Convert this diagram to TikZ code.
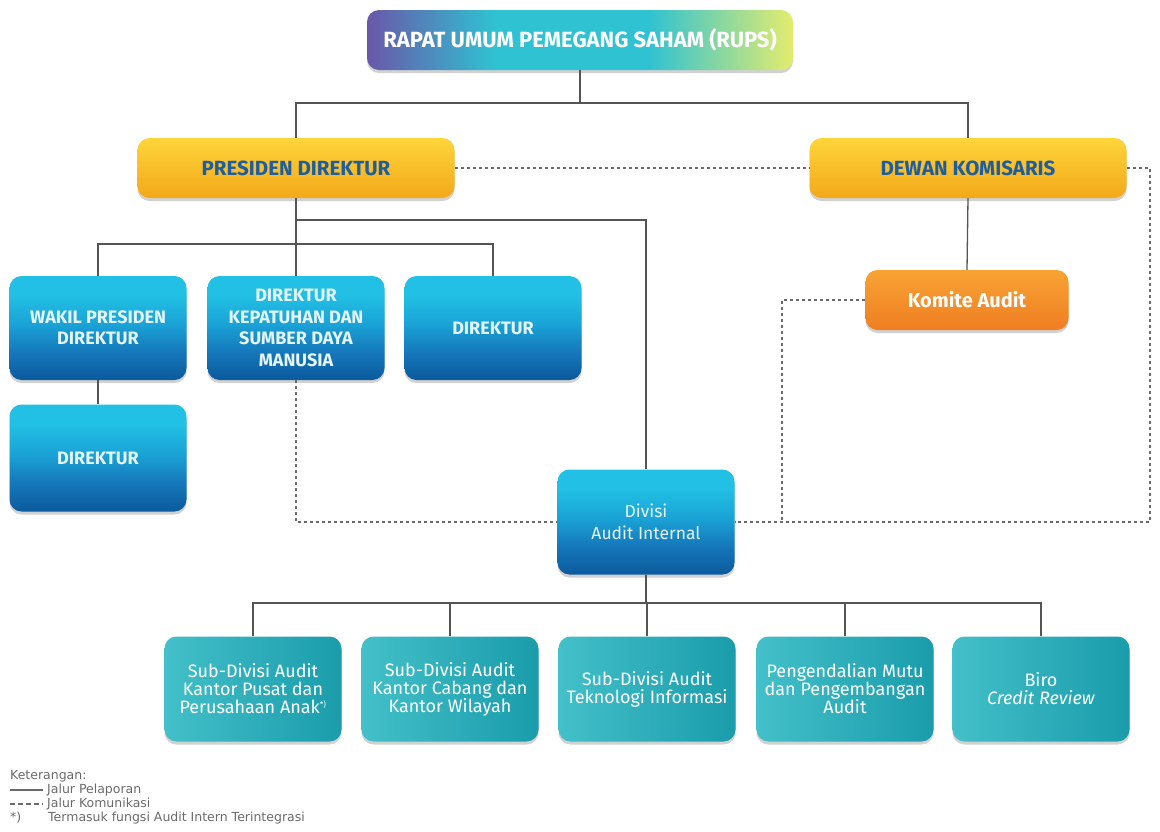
\documentclass[tikz,border=0pt]{standalone}
\usepackage{fontspec}
\setmainfont{Fira Sans}
\newfontfamily\legfont{DejaVu Sans}
\usetikzlibrary{shadows}
\definecolor{lin}{HTML}{555555}
\definecolor{dsh}{HTML}{6A6A6A}
\definecolor{bTop}{HTML}{22C0E4}
\definecolor{bMid}{HTML}{1AA3D6}
\definecolor{bLow}{HTML}{1576B9}
\definecolor{bBot}{HTML}{0B5A9C}
\definecolor{tL}{HTML}{43C0C9}
\definecolor{tR}{HTML}{1A9CAB}
\definecolor{yT}{HTML}{FED53A}
\definecolor{yB}{HTML}{F3A81A}
\definecolor{oT}{HTML}{F8A334}
\definecolor{oB}{HTML}{EF7E22}
\definecolor{rP}{HTML}{6A57A8}
\definecolor{rT}{HTML}{2FC2D2}
\definecolor{rY}{HTML}{E4EC6E}
\definecolor{ytext}{HTML}{1E5E9E}
\definecolor{btext}{HTML}{E4F5FB}
\definecolor{legtext}{HTML}{6A6A6A}
\pgfdeclareverticalshading{bluesh}{100bp}{color(0bp)=(bBot); color(25bp)=(bBot); color(38bp)=(bLow); color(52bp)=(bMid); color(66bp)=(bTop); color(75bp)=(bTop); color(100bp)=(bTop)}
\pgfdeclarehorizontalshading{tealsh}{100bp}{color(0bp)=(tL); color(25bp)=(tL); color(75bp)=(tR); color(100bp)=(tR)}
\pgfdeclarehorizontalshading{rupssh}{100bp}{color(0bp)=(rP); color(25bp)=(rP); color(40bp)=(rT); color(58bp)=(rT); color(75bp)=(rY); color(100bp)=(rY)}
\tikzset{
  boxbase/.style={rounded corners=12pt, align=center, inner sep=0pt,
    drop shadow={shadow xshift=0pt, shadow yshift=-3pt, opacity=0.18, fill=black}},
  rupsbox/.style={boxbase, shading=rupssh, minimum width=426pt, minimum height=60pt,
    text=white, font=\fontsize{22}{26}\selectfont\bfseries},
  yelbox/.style={boxbase, top color=yT, bottom color=yB, minimum width=317pt, minimum height=60pt,
    text=ytext, font=\fontsize{20.5}{24}\selectfont\bfseries},
  orabox/.style={boxbase, top color=oT, bottom color=oB, minimum width=203pt, minimum height=60pt,
    text=white, font=\fontsize{20}{24}\selectfont\bfseries},
  bluebox/.style={boxbase, shading=bluesh, minimum width=177pt, minimum height=104pt,
    text=btext, font=\fontsize{18}{21.5}\selectfont\bfseries},
  tealbox/.style={boxbase, shading=tealsh, minimum width=177pt, minimum height=105pt,
    text=white, font=\fontsize{18}{18}\selectfont},
  solidln/.style={draw=lin, line width=1.3pt},
  dashln/.style={draw=dsh, line width=1.2pt, dash pattern=on 3pt off 3pt},
  legnode/.style={anchor=west, inner sep=0pt, text=legtext, font=\legfont\fontsize{12.5}{14}\selectfont},
  legline/.style={draw=legtext, line width=1.2pt}
}
\begin{document}
\begin{tikzpicture}[x=1pt,y=-1pt]
\useasboundingbox (0,0) rectangle (1160,831);
% nodes
\node[rupsbox] (rups) at (580,40) {RAPAT UMUM PEMEGANG SAHAM (RUPS)};
\node[yelbox] (pd) at (296,168) {PRESIDEN DIREKTUR};
\node[yelbox] (dk) at (968,168) {DEWAN KOMISARIS};
\node[bluebox] (wakil) at (98,328) {WAKIL PRESIDEN\\DIREKTUR};
\node[bluebox] (kep) at (296,328) {DIREKTUR\\KEPATUHAN DAN\\SUMBER DAYA\\MANUSIA};
\node[bluebox] (dir1) at (493,328) {DIREKTUR};
\node[bluebox, minimum height=107pt] (dir2) at (98,458) {DIREKTUR};
\node[orabox] (komite) at (967,300) {Komite Audit};
\node[bluebox, minimum height=105pt, font=\fontsize{17.5}{22}\selectfont] (divisi) at (646,522) {Divisi\\Audit Internal};
\node[tealbox] (b1) at (253,689) {Sub-Divisi Audit\\Kantor Pusat dan\\Perusahaan Anak\textsuperscript{\fontsize{8}{8}\selectfont *)}};
\node[tealbox] (b2) at (450,689) {Sub-Divisi Audit\\Kantor Cabang dan\\Kantor Wilayah};
\node[tealbox] (b3) at (647,689) {Sub-Divisi Audit\\Teknologi Informasi};
\node[tealbox] (b4) at (845,689) {Pengendalian Mutu\\dan Pengembangan\\Audit};
\node[tealbox] (b5) at (1041,689) {Biro\\\textit{Credit Review}};
% junctions
\coordinate (j1) at (580,103);
\coordinate (pdj) at (296,220);
\coordinate (dj) at (296,244);
\coordinate (bj) at (646,603);
\coordinate (rc) at (1150,522);
\coordinate (kc) at (782,522);
% solid connectors
\draw[solidln] (rups.south) -- (j1);
\draw[solidln] (pd.north) |- (j1) -| (dk.north);
\draw[solidln] (pd.south) -- (kep.north);
\draw[solidln] (wakil.north) |- (dj) -| (dir1.north);
\draw[solidln] (pdj) -| (divisi.north);
\draw[solidln] (wakil.south) -- (dir2.north);
\draw[solidln] (dk.south) -- (komite.north);
\draw[solidln] (divisi.south) -- (bj);
\draw[solidln] (b1.north) |- (bj) -| (b5.north);
\draw[solidln] (b2.north) -- (b2.north |- bj);
\draw[solidln] (b3.north) -- (b3.north |- bj);
\draw[solidln] (b4.north) -- (b4.north |- bj);
% dashed connectors
\draw[dashln] (pd.east) -- (dk.west);
\draw[dashln] (dk.east) -| (rc) -- (divisi.east);
\draw[dashln] (komite.west) -| (kc);
\draw[dashln] (kep.south) |- (divisi.west);
% legend
\node[legnode] (leg0) at (10,776) {Keterangan:};
\coordinate (l1a) at (10,790); \coordinate (l1b) at (43,790);
\draw[legline] (l1a) -- (l1b);
\node[legnode] (leg1) at (47,790) {Jalur Pelaporan};
\coordinate (l2a) at (10,804); \coordinate (l2b) at (43,804);
\draw[legline, dash pattern=on 4.5pt off 3.5pt] (l2a) -- (l2b);
\node[legnode] (leg2) at (47,804) {Jalur Komunikasi};
\node[legnode] (leg3) at (10,818) {*)};
\node[legnode] (leg4) at (48,818) {Termasuk fungsi Audit Intern Terintegrasi};
\end{tikzpicture}
\end{document}
